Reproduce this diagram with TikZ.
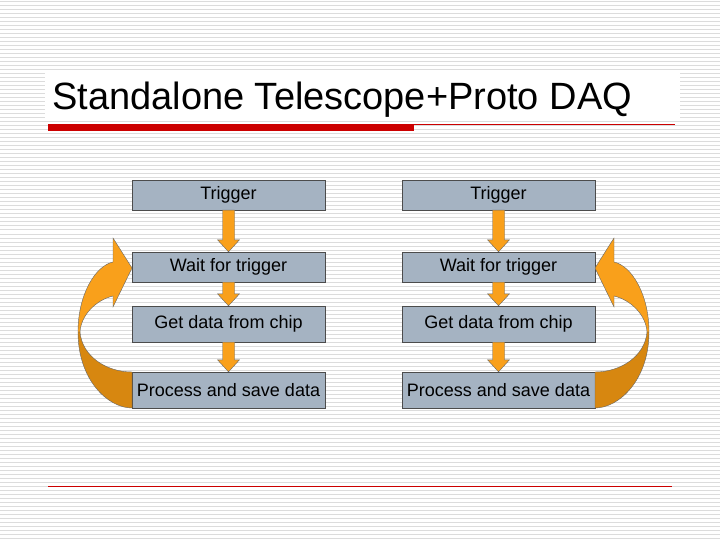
\documentclass[tikz,border=0pt]{standalone}
\usepackage{fontspec}
\setmainfont{Liberation Sans}
\tikzset{
  step/.style={draw=black!70,fill=stepgray,minimum width=193pt,minimum height=#1,inner sep=0pt,font=\fontsize{18}{20}\selectfont},
  step/.default=30pt,
  flow/.style={draw=black!60,fill=arrorange,line width=0.4pt},
}
\definecolor{stepgray}{HTML}{A5B3C2}
\definecolor{arrorange}{HTML}{F9A01B}
\definecolor{arrdark}{HTML}{D78710}
\definecolor{ruled}{HTML}{DCDCDC}
\definecolor{titlered}{HTML}{CC0000}
\newcommand{\downarr}[2]{% small arrow from #1 to #2
  \fill[flow] ($(#1.south)+(-6,0)$) -- ($(#2.north)+(-6,-12)$) -- ($(#2.north)+(-11,-12)$)
    -- (#2.north) -- ($(#2.north)+(11,-12)$) -- ($(#2.north)+(6,-12)$) -- ($(#1.south)+(6,0)$) -- cycle;}
\usetikzlibrary{calc}
\begin{document}
\begin{tikzpicture}[x=1pt,y=-1pt]
  \useasboundingbox (0,0) rectangle (720,540);
  % Ruled background
  \foreach \y in {2,6,...,538} \draw[ruled,line width=1pt] (0,\y) -- (720,\y);
  \fill[white] (45,72) rectangle (680,118);

  % Title
  \node[anchor=base west,inner sep=0pt,font=\fontsize{38}{40}\selectfont] (title) at (52,110) {Standalone Telescope+Proto DAQ};
  \fill[titlered] (48,124) rectangle (414,131);
  \draw[titlered,line width=0.6pt] (414,124) -- (675,124);
  \draw[titlered,line width=0.6pt] (48,486) -- (672,486);

  % Two columns
  \foreach \c/\cx in {l/228.5,r/498.5}{
    \node[step] (trig\c) at (\cx,195) {Trigger};
    \node[step] (wait\c) at (\cx,267) {Wait for trigger};
    \node[step=36pt] (get\c) at (\cx,324) {Get data from chip};
    \node[step=36pt] (proc\c) at (\cx,390) {Process and save data};
    \downarr{trig\c}{wait\c}
    \downarr{wait\c}{get\c}
    \downarr{get\c}{proc\c}
  }

  % Loop arrows
  \foreach \s/\sx in {1/0pt,-1/727pt}{
    \begin{scope}[xshift=\sx,xscale=\s]
      \fill[flow,fill=arrdark] (78,332) .. controls (78,380) and (108,408) .. (132,408)
        -- (132,372) .. controls (106,372) and (82,356) .. (80,332) -- cycle;
      \fill[flow] (78,332) .. controls (78,295) and (95,266) .. (113,262)
        -- (113,238) -- (132,268) -- (113,307) -- (113,296)
        .. controls (96,300) and (81,315) .. (80,332) -- cycle;
    \end{scope}
  }
\end{tikzpicture}
\end{document}
